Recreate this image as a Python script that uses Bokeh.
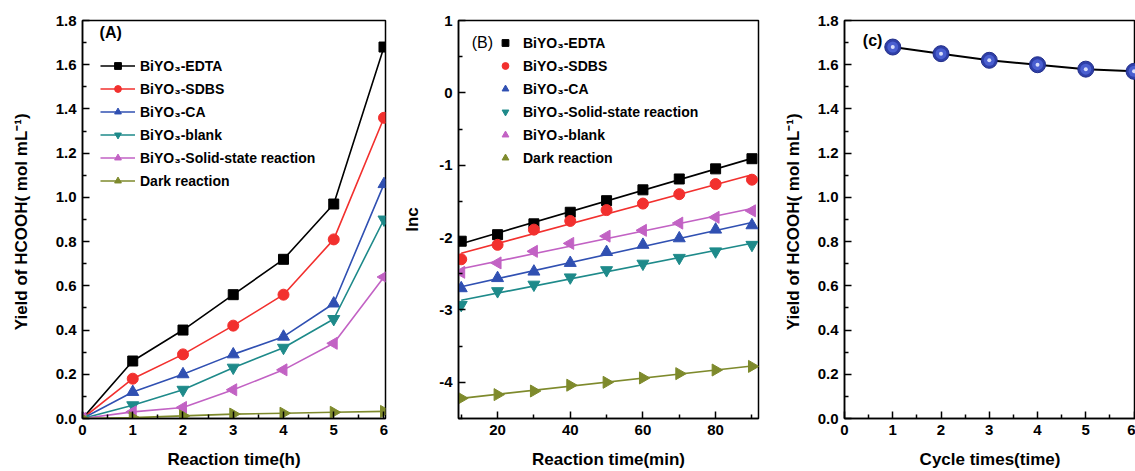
import numpy as np
from bokeh.plotting import figure
from bokeh.layouts import row
from bokeh.models import Range1d, Legend, LegendItem, Label, FixedTicker, NumeralTickFormatter
from bokeh.embed import file_html
from bokeh.resources import INLINE

FONT = "Liberation Sans"

# ---------------- data ----------------
# Panel A: yield vs reaction time (h)
time_h = [0, 1, 2, 3, 4, 5, 6]
a_edta = [0.0, 0.26, 0.40, 0.56, 0.72, 0.97, 1.68]
a_sdbs = [0.0, 0.18, 0.29, 0.42, 0.56, 0.81, 1.36]
a_ca = [0.0, 0.12, 0.20, 0.29, 0.37, 0.52, 1.06]
a_blank = [0.0, 0.06, 0.13, 0.23, 0.32, 0.45, 0.90]
a_solid = [0.0, 0.03, 0.05, 0.13, 0.22, 0.34, 0.64]
a_dark = [0.0, 0.004, 0.012, 0.02, 0.024, 0.028, 0.032]

# Panel B: ln c vs reaction time (min)
time_min = [10, 20, 30, 40, 50, 60, 70, 80, 90]
b_edta = [-2.05, -1.96, -1.81, -1.65, -1.49, -1.34, -1.19, -1.05, -0.91]
b_sdbs = [-2.30, -2.10, -1.89, -1.77, -1.62, -1.53, -1.40, -1.26, -1.20]
b_ca = [-2.70, -2.56, -2.47, -2.35, -2.20, -2.10, -2.01, -1.89, -1.83]
b_solid = [-2.93, -2.74, -2.65, -2.55, -2.45, -2.36, -2.28, -2.19, -2.10]
b_blank = [-2.48, -2.35, -2.19, -2.08, -1.98, -1.90, -1.80, -1.72, -1.63]
b_dark = [-4.22, -4.17, -4.12, -4.04, -4.00, -3.94, -3.88, -3.83, -3.78]

# Panel C: recycling
cycles = [1, 2, 3, 4, 5, 6]
c_yield = [1.68, 1.65, 1.62, 1.60, 1.58, 1.57]

labels_a = ["BiYO\u2083-EDTA", "BiYO\u2083-SDBS", "BiYO\u2083-CA", "BiYO\u2083-blank",
            "BiYO\u2083-Solid-state reaction", "Dark reaction"]
labels_b = ["BiYO\u2083-EDTA", "BiYO\u2083-SDBS", "BiYO\u2083-CA",
            "BiYO\u2083-Solid-state reaction", "BiYO\u2083-blank", "Dark reaction"]

BLACK = "#000000"
RED = "#F2302E"
BLUE = "#3050B2"
TEAL = "#1E8A8A"
PURPLE = "#C262C4"
OLIVE = "#7E8A2C"

YLABEL = "Yield of HCOOH(  mol mL\u207b\u00b9)"


def style_axis(ax, major, minor, fmt):
    ax.ticker = FixedTicker(ticks=major, minor_ticks=minor)
    ax.formatter = NumeralTickFormatter(format=fmt)
    ax.major_tick_in = 7
    ax.major_tick_out = 0
    ax.minor_tick_in = 4
    ax.minor_tick_out = 0
    for attr in ("axis_line", "major_tick_line", "minor_tick_line"):
        setattr(ax, attr + "_color", BLACK)
        setattr(ax, attr + "_width", 1.5)
    ax.major_label_text_font = FONT
    ax.major_label_text_font_style = "bold"
    ax.major_label_text_color = BLACK
    ax.major_label_text_font_size = "15px"
    ax.major_label_standoff = 6
    ax.axis_label_text_font = FONT
    ax.axis_label_text_font_style = "bold"
    ax.axis_label_text_font_size = "17px"
    ax.axis_label_text_color = BLACK


def make_fig(width, xr, yr, left, right):
    p = figure(width=width, height=471, x_range=Range1d(*xr), y_range=Range1d(*yr),
               output_backend="svg", toolbar_location=None,
               min_border_left=left, min_border_right=right,
               min_border_top=20, min_border_bottom=52)
    p.xgrid.visible = False
    p.ygrid.visible = False
    p.outline_line_color = BLACK
    p.outline_line_width = 1.5
    p.background_fill_color = "white"
    p.border_fill_color = "white"
    return p


def legend_style(lg):
    lg.border_line_color = None
    lg.background_fill_alpha = 0
    lg.label_text_font = FONT
    lg.label_text_font_style = "bold"
    lg.label_text_font_size = "14px"
    lg.label_text_color = BLACK
    lg.glyph_height = 17
    lg.label_height = 17
    lg.spacing = 6
    lg.padding = 0
    lg.margin = 0


Y_MAJ = [round(0.2 * i, 1) for i in range(10)]
Y_MIN = [round(0.1 + 0.2 * i, 1) for i in range(9)]
X_MAJ = list(range(0, 7))
X_MIN = [0.5 + i for i in range(6)]

# ---------------- Panel A ----------------
pA = make_fig(400, (0, 6.03), (0, 1.8), 82, 15)
seriesA = [
    (a_edta, BLACK, "square", 0, 10),
    (a_sdbs, RED, "circle", 0, 11),
    (a_ca, BLUE, "triangle", 0, 12),
    (a_blank, TEAL, "inverted_triangle", 0, 12),
    (a_solid, PURPLE, "triangle", np.pi / 2, 12),
    (a_dark, OLIVE, "triangle", -np.pi / 2, 12),
]
itemsA = []
for (ys, col, mk, ang, sz), lab in zip(seriesA, labels_a):
    lr = pA.line(time_h, ys, line_color=col, line_width=1.6)
    sr = pA.scatter(time_h, ys, marker=mk, angle=ang, size=sz, fill_color=col, line_color=col)
    itemsA.append(LegendItem(label=lab, renderers=[lr, sr]))
legA = Legend(items=itemsA, location=(18, 229))
legend_style(legA)
legA.glyph_width = 35
legA.label_standoff = 5
pA.add_layout(legA)

axA_b = pA.xaxis[0]
style_axis(axA_b, X_MAJ, X_MIN, "0")
axA_b.axis_label = "Reaction time(h)"
axA_b.axis_label_standoff = 12
axA_l = pA.yaxis[0]
style_axis(axA_l, Y_MAJ, Y_MIN, "0.0")
axA_l.axis_label = YLABEL
axA_l.axis_label_standoff = 22
pA.add_layout(Label(x=0.34, y=1.745, text="(A)", text_font=FONT, text_font_style="bold",
                    text_font_size="16px", text_baseline="middle", text_color=BLACK))

# ---------------- Panel B ----------------
pB = make_fig(380, (9.25, 91.8), (-4.5, 1.0), 58, 22)
seriesB = [
    (b_edta, BLACK, "square", 0, 10),
    (b_sdbs, RED, "circle", 0, 11),
    (b_ca, BLUE, "triangle", 0, 12),
    (b_solid, TEAL, "inverted_triangle", 0, 12),
    (b_blank, PURPLE, "triangle", np.pi / 2, 12),
    (b_dark, OLIVE, "triangle", -np.pi / 2, 12),
]
itemsB = []
xt = np.array(time_min, dtype=float)
xfit = [xt.min(), xt.max()]
for (ys, col, mk, ang, sz), lab in zip(seriesB, labels_b):
    k, b = np.polyfit(xt, np.array(ys), 1)
    pB.line(xfit, [k * v + b for v in xfit], line_color=col, line_width=1.6)
    sr = pB.scatter(time_min, ys, marker=mk, angle=ang, size=sz, fill_color=col, line_color=col)
    itemsB.append(LegendItem(label=lab, renderers=[sr]))
legB = Legend(items=itemsB, location=(37, 252))
legend_style(legB)
legB.glyph_width = 20
legB.label_standoff = 8
pB.add_layout(legB)

axB_b = pB.xaxis[0]
style_axis(axB_b, [20, 40, 60, 80], [10, 30, 50, 70, 90], "0")
axB_b.axis_label = "Reaction time(min)"
axB_b.axis_label_standoff = 12
axB_l = pB.yaxis[0]
style_axis(axB_l, [-4, -3, -2, -1, 0, 1], [-4.5, -3.5, -2.5, -1.5, -0.5, 0.5], "0")
axB_l.axis_label = "lnc"
axB_l.axis_label_standoff = 14
pB.add_layout(Label(x=12.9, y=0.70, text="(B)", text_font=FONT, text_font_style="normal",
                    text_font_size="16px", text_baseline="middle", text_color=BLACK))

# ---------------- Panel C ----------------
pC = make_fig(355, (0, 6.03), (0, 1.8), 63, 0)
pC.line(cycles, c_yield, line_color=BLACK, line_width=2)
pC.scatter(cycles, c_yield, marker="circle", size=16, fill_color="#2E3FA8", line_color="#222E8A", line_width=1)
pC.scatter(cycles, c_yield, marker="circle", size=11, fill_color="#4A5FD0", line_color=None)
pC.scatter(cycles, c_yield, marker="circle", size=4, fill_color="#E8ECFF", line_color=None, fill_alpha=0.9)

axC_b = pC.xaxis[0]
style_axis(axC_b, X_MAJ, X_MIN, "0")
axC_b.axis_label = "Cycle times(time)"
axC_b.axis_label_standoff = 12
axC_l = pC.yaxis[0]
style_axis(axC_l, Y_MAJ, Y_MIN, "0.0")
axC_l.axis_label = YLABEL
axC_l.axis_label_standoff = 12
pC.add_layout(Label(x=0.38, y=1.71, text="(c)", text_font=FONT, text_font_style="bold",
                    text_font_size="16px", text_baseline="middle", text_color=BLACK))

layout = row(pA, pB, pC)
open("out.html", "w").write(file_html(layout, INLINE))
